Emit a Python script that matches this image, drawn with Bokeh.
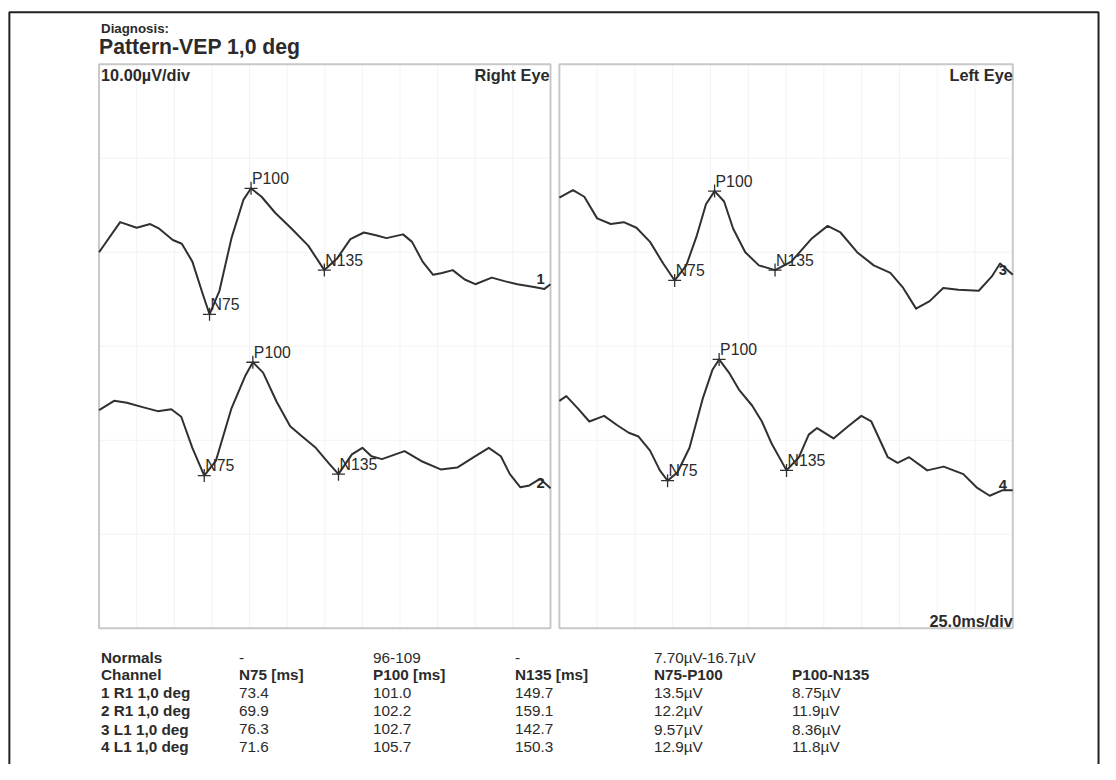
import numpy as np
from bokeh.plotting import figure
from bokeh.models import Range1d, ColumnDataSource
from bokeh.core.properties import value
from bokeh.embed import file_html
from bokeh.resources import INLINE

# ---------------- data ----------------
# waveforms: time (ms) and amplitude (µV, panel-relative)
t1 = [0, 14, 25, 34, 40, 49, 55, 62, 69, 73.4, 80, 88, 96, 101.0, 108, 117, 128, 139, 149.7, 158,
      167, 176, 184, 191, 202, 208, 215, 222, 228, 235, 243, 250, 261, 270, 278, 289, 296, 300]
v1 = [40.0, 43.2, 42.6, 43.0, 42.5, 41.3, 40.9, 39.0, 35.5, 33.4, 35.9, 41.5, 45.6, 46.8, 45.9, 44.2, 42.5, 40.7, 38.1, 39.3,
      41.4, 42.1, 41.8, 41.5, 41.9, 41.1, 39.0, 37.6, 37.8, 38.1, 37.1, 36.6, 37.3, 36.9, 36.6, 36.3, 36.1, 36.6]

t2 = [0, 10, 18.5, 29.5, 39, 48, 54.6, 62, 69.9, 77.6, 88, 97, 102.2, 109, 118, 127, 135, 144, 153, 159.1,
      168, 175, 181, 188, 203, 214, 227, 238, 249, 259, 267, 273, 280, 286, 293, 300]
v2 = [23.2, 24.2, 24.0, 23.5, 23.1, 23.3, 22.5, 19.2, 16.25, 17.8, 23.4, 26.8, 28.3, 27.2, 24.1, 21.5, 20.4, 19.2, 17.5, 16.4,
      18.5, 19.2, 18.3, 18.0, 18.85, 17.8, 16.9, 17.1, 18.2, 19.2, 18.3, 16.4, 15.0, 15.2, 15.9, 14.9]

t3 = [0, 9, 16.5, 25, 34, 42.6, 51, 60, 68.7, 76.3, 84, 91, 97, 102.7, 109, 115, 123, 132, 142.7, 153.5,
      166.6, 177.5, 186, 197, 208, 219, 227.5, 236, 245, 254, 264, 277.5, 286, 291.6, 300]
v3 = [45.8, 46.6, 45.9, 43.6, 43.0, 43.2, 42.6, 41.1, 38.8, 37.0, 38.6, 41.8, 45.1, 46.5, 45.4, 42.5, 40.0, 38.6, 38.1, 39.0,
      41.4, 42.8, 42.1, 40.0, 38.6, 37.8, 36.2, 34.0, 34.8, 36.2, 36.0, 35.9, 37.4, 38.8, 37.6]

t4 = [0, 4.6, 12.2, 19.8, 29.6, 38.3, 45.9, 52.4, 60, 66.5, 71.6, 78.2, 86.1, 94.8, 101.3, 105.7, 112.2, 118.8, 127.5, 134,
      140.6, 150.3, 158.5, 165, 170.5, 181.4, 191.1, 199.8, 206.4, 217.3, 223.8, 231.4, 243.4, 254.3, 267.3, 276, 284.7, 293.4, 300]
v4 = [24.2, 24.7, 23.4, 22.0, 22.6, 21.6, 20.8, 20.4, 18.9, 16.8, 15.7, 16.6, 19.2, 24.4, 27.5, 28.6, 27.2, 25.4, 23.7, 22.0,
      19.6, 16.8, 18.2, 20.6, 21.3, 20.2, 21.5, 22.6, 22.0, 18.2, 17.6, 18.2, 16.8, 17.2, 16.4, 15.0, 14.1, 14.7, 14.7]

channel_ids = ["1", "2", "3", "4"]
channel_names = ["1 R1 1,0 deg", "2 R1 1,0 deg", "3 L1 1,0 deg", "4 L1 1,0 deg"]
channel_panel = ["right", "right", "left", "left"]
n75 = [73.4, 69.9, 76.3, 71.6]
p100 = [101.0, 102.2, 102.7, 105.7]
n135 = [149.7, 159.1, 142.7, 150.3]
amp_n75_p100 = [13.5, 12.2, 9.57, 12.9]
amp_p100_n135 = [8.75, 11.9, 8.36, 11.8]
normals = ["-", "96-109", "-", "7.70µV-16.7µV", ""]
col_headers = ["N75 [ms]", "P100 [ms]", "N135 [ms]", "N75-P100", "P100-N135"]

T_MAX = 300.0      # ms across a panel (25.0 ms/div)
V_MAX = 60.0       # µV across a panel (10.00 µV/div)

# ---------------- layout ----------------
# layout is described in a 1116 x 780 "sheet" space, mapped onto the canvas
W, H = 1100, 764
SW, SH = 1116.0, 780.0
K = W / SW
R_LEFT, R_RIGHT = 100, 558
L_LEFT, L_RIGHT = 567, 1027
P_TOP, P_BOTTOM = 65, 641

sR = (R_RIGHT - R_LEFT) / T_MAX
sL = (L_RIGHT - L_LEFT) / T_MAX
sV = (P_BOTTOM - P_TOP) / V_MAX

x_right = Range1d((0 - R_LEFT) / sR, (SW - R_LEFT) / sR)
x_left = Range1d((0 - L_LEFT) / sL, (SW - L_LEFT) / sL)
y_uv = Range1d((P_BOTTOM - SH) / sV, (P_BOTTOM - 0) / sV)

FONT = "Liberation Sans"
INK = "#2b2b2b"
LINE = "#303030"
PANEL = "#c8c8c8"
GRID = "#f3f3f3"


def fs(px):
    return f"{px * K:.1f}px"


p = figure(width=W, height=H, x_range=x_right, y_range=y_uv,
           x_axis_location=None, y_axis_location=None,
           output_backend="svg", toolbar_location=None,
           min_border=0, min_border_left=0, min_border_right=0,
           min_border_top=0, min_border_bottom=0,
           outline_line_color=None, background_fill_color="white",
           border_fill_color="white")
p.title.visible = False
p.grid.visible = False
p.extra_x_ranges = {"left": x_left, "sheet": Range1d(0, SW)}
p.extra_y_ranges = {"sheet": Range1d(SH, 0)}

# outer frame of the report
p.line(x=[9, 9, 1114, 1114], y=[800, 12, 12, 800], x_range_name="sheet", y_range_name="sheet",
       line_color="#222222", line_width=2)

# grids + panel frames
grid_t = list(np.arange(25, T_MAX, 25))
grid_v = list(np.arange(10, V_MAX, 10))
for rn in ["default", "left"]:
    p.segment(x0=grid_t, x1=grid_t, y0=[0] * len(grid_t), y1=[V_MAX] * len(grid_t),
              x_range_name=rn, line_color=GRID, line_width=1)
    p.segment(x0=[0] * len(grid_v), x1=[T_MAX] * len(grid_v), y0=grid_v, y1=grid_v,
              x_range_name=rn, line_color=GRID, line_width=1)
    p.quad(left=[0], right=[T_MAX], bottom=[0], top=[V_MAX], x_range_name=rn,
           fill_color=None, line_color=PANEL, line_width=2)

# traces, markers and labels
traces = [(t1, v1), (t2, v2), (t3, v3), (t4, v4)]
for i, (t, v) in enumerate(traces):
    rn = "default" if channel_panel[i] == "right" else "left"
    p.line(x=t, y=v, x_range_name=rn, line_color=LINE, line_width=2, line_join="round")
    lat = [n75[i], p100[i], n135[i]]
    amp = list(np.interp(lat, t, v))
    src = ColumnDataSource(dict(x=lat, y=amp, lab=["N75", "P100", "N135"]))
    p.scatter(x="x", y="y", source=src, x_range_name=rn, marker="cross", size=13,
              line_color=LINE, line_width=1.3)
    p.text(x="x", y="y", text="lab", source=src, x_range_name=rn,
           x_offset=1, y_offset=-10, text_font=value(FONT), text_font_size=fs(16),
           text_color=INK, text_align="left", text_baseline="alphabetic")
    p.text(x=[t[-1]], y=[v[-1]], text=[channel_ids[i]], x_range_name=rn,
           x_offset=-10, y_offset=-5, text_font=value(FONT), text_font_size=fs(15),
           text_font_style="bold", text_color=INK, text_align="center",
           text_baseline="alphabetic")


def txt(x, y, s, size, bold=False, align="left", baseline="middle"):
    p.text(x=[x], y=[y], text=[s], x_range_name="sheet", y_range_name="sheet",
           text_font=value(FONT), text_font_size=fs(size),
           text_font_style="bold" if bold else "normal", text_color=INK,
           text_align=align, text_baseline=baseline)


# header
txt(102, 29, "Diagnosis:", 13.5, bold=True)
txt(100, 47, "Pattern-VEP 1,0 deg", 21.5, bold=True)
txt(102, 76, "10.00µV/div", 16.5, bold=True)
txt(557, 76, "Right Eye", 16.5, bold=True, align="right")
txt(1027, 76, "Left Eye", 16.5, bold=True, align="right")
txt(1027, 633, "25.0ms/div", 16.5, bold=True, align="right")

# table
col_x = [242, 378, 522, 663, 803]
row_y = [671, 688, 707, 725, 744, 762]
TS = 15.5
txt(102, row_y[0], "Normals", TS, bold=True)
txt(102, row_y[1], "Channel", TS, bold=True)
for c, s in enumerate(normals):
    if s:
        txt(col_x[c], row_y[0], s, TS)
for c, s in enumerate(col_headers):
    txt(col_x[c], row_y[1], s, TS, bold=True)
for i, name in enumerate(channel_names):
    y = row_y[2 + i]
    txt(102, y, name, TS, bold=True)
    txt(col_x[0], y, f"{n75[i]:.1f}", TS)
    txt(col_x[1], y, f"{p100[i]:.1f}", TS)
    txt(col_x[2], y, f"{n135[i]:.1f}", TS)
    txt(col_x[3], y, f"{amp_n75_p100[i]:#.3g}µV", TS)
    txt(col_x[4], y, f"{amp_p100_n135[i]:#.3g}µV", TS)

open("out.html", "w").write(file_html(p, INLINE))
